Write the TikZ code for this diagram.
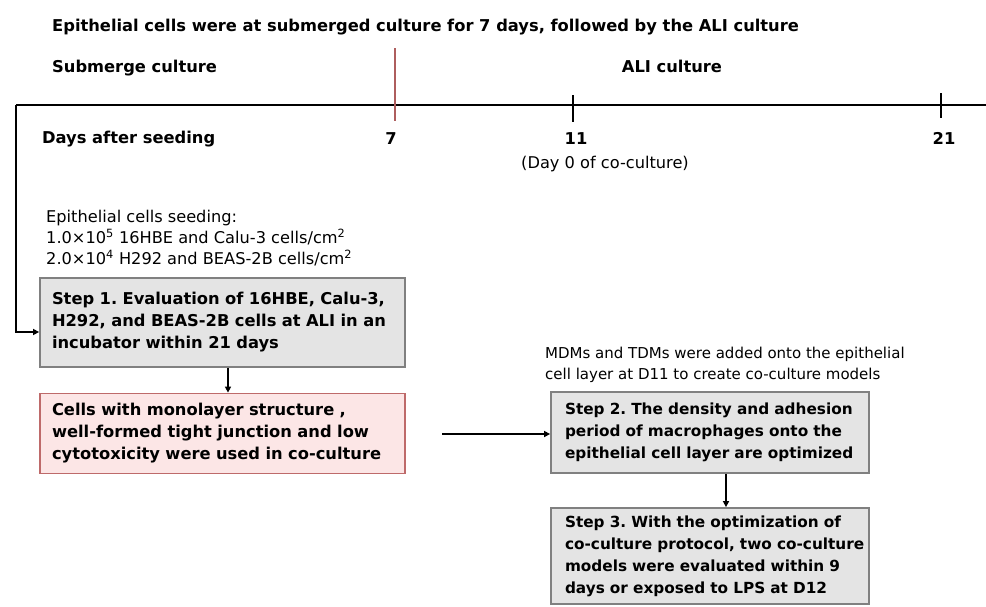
\documentclass[tikz,border=0pt]{standalone}
\usepackage{fontspec}
\setmainfont{DejaVu Sans}
\usetikzlibrary{arrows.meta}
\definecolor{boxgray}{HTML}{E4E4E4}
\definecolor{boxgrayline}{HTML}{808080}
\definecolor{pinkfill}{HTML}{FCE6E6}
\definecolor{pinkline}{HTML}{BE6A6A}
\definecolor{redline}{HTML}{AE5E5E}
\frenchspacing
\begin{document}
\begin{tikzpicture}[x=1pt,y=-1pt,
  btxt/.style={inner sep=0pt, font=\fontsize{16.3}{21}\selectfont\bfseries, anchor=base west},
  ntxt/.style={inner sep=0pt, font=\fontsize{16.2}{21}\selectfont, anchor=base west, align=left},
  graybox/.style={draw=boxgrayline, fill=boxgray, line width=1.8pt, inner xsep=12pt, inner ysep=0pt,
     font=\fontsize{16.3}{22}\selectfont\bfseries, align=left},
  smallbox/.style={graybox, inner xsep=14pt, font=\fontsize{15.3}{22}\selectfont\bfseries},
  pinkbox/.style={graybox, draw=pinkline, fill=pinkfill},
  arr/.style={line width=1.5pt, -{Triangle[length=6pt,width=6pt]}},
  tl/.style={line width=1.8pt}
]
\useasboundingbox (0,0) rectangle (986,606);

% titles
\node[btxt] (title) at (52,31) {Epithelial cells were at submerged culture for 7 days, followed by the ALI culture};
\node[btxt] (sub) at (52,72) {Submerge culture};
\node[btxt, anchor=base] (ali) at (672,72) {ALI culture};

% timeline
\coordinate (tlstart) at (16,105);
\coordinate (tlend) at (986,105);
\draw[tl] (tlstart) -- (tlend);
\draw[line width=2pt, redline] (395,48) -- (395,121);
\draw[tl] (573,95) -- (573,122);
\draw[tl] (941,93) -- (941,118);

\node[btxt] (days) at (42,143) {Days after seeding};
\node[btxt, anchor=base] (d7) at (391,144) {7};
\node[btxt, anchor=base] (d11) at (576,144) {11};
\node[btxt, anchor=base] (d21) at (944,144) {21};
\node[ntxt, anchor=base] (d0) at (605,168) {(Day 0 of co-culture)};

% seeding text
\node[ntxt, anchor=north west] (seed) at (46,210) {Epithelial cells seeding:\\
1.0×10\textsuperscript{5} 16HBE and Calu-3 cells/cm\textsuperscript{2}\\
2.0×10\textsuperscript{4} H292 and BEAS-2B cells/cm\textsuperscript{2}};

% boxes
\node[graybox, minimum width=365pt, minimum height=89pt, text width=341pt] (s1) at (222.5,322.5)
  {Step 1. Evaluation of 16HBE, Calu-3,\\ H292, and BEAS-2B cells at ALI in an\\ incubator within 21 days};
\node[pinkbox, minimum width=365pt, minimum height=80pt, text width=341pt] (cells) at (222.5,433.5)
  {Cells with monolayer structure ,\\ well-formed tight junction and low\\ cytotoxicity were used in co-culture};

\node[ntxt, anchor=north west, font=\fontsize{15}{21}\selectfont] (mdm) at (545,347) {MDMs and TDMs were added onto the epithelial\\ cell layer at D11 to create co-culture models};

\node[smallbox, minimum width=318pt, minimum height=81pt, text width=290pt] (s2) at (710,432.5)
  {\mbox{Step 2. The density and adhesion}\\ \mbox{period of macrophages onto the}\\ \mbox{epithelial cell layer are optimized}};
\node[smallbox, minimum width=318pt, minimum height=96pt, text width=290pt] (s3) at (710,556)
  {\mbox{Step 3. With the optimization of}\\ \mbox{co-culture protocol, two co-culture}\\ \mbox{models were evaluated within 9}\\ \mbox{days or exposed to LPS at D12}};

% connectors
\draw[arr, line width=2.2pt] (tlstart) |- (s1.west |- {(0,332)});
\draw[arr] (s1.south -| {(228,0)}) -- (cells.north -| {(228,0)});
\coordinate (hstart) at (442,434);
\draw[arr] (hstart) -- (s2.west |- hstart);
\draw[arr] (s2.south -| {(726,0)}) -- (s3.north -| {(726,0)});
\end{tikzpicture}
\end{document}
